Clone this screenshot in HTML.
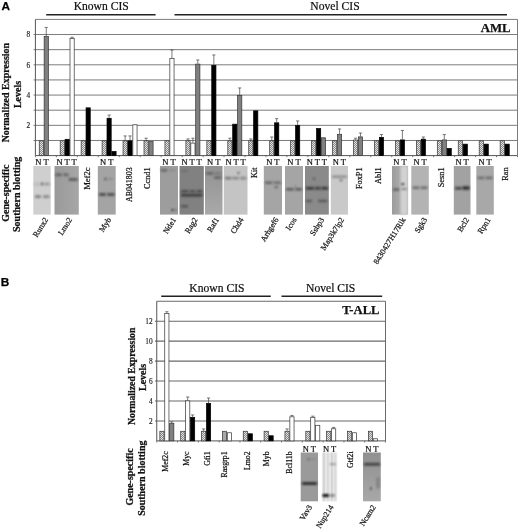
<!DOCTYPE html><html><head><meta charset="utf-8"><title>Figure</title>
<style>html,body{margin:0;padding:0;background:#fff;}svg{display:block;}</style></head><body>
<svg width="520" height="529" viewBox="0 0 520 529">
<defs><pattern id="hatch" width="2" height="2" patternUnits="userSpaceOnUse"><rect width="2" height="2" fill="#8a8a8a"/><rect width="1" height="1" fill="#e2e2e2"/><rect x="1" y="1" width="1" height="1" fill="#e2e2e2"/></pattern><filter id="blur" x="-20%" y="-100%" width="140%" height="300%"><feGaussianBlur stdDeviation="0.8"/></filter></defs>
<rect width="520" height="529" fill="#fff"/>
<text x="1.6" y="10.2" font-size="11.8" text-anchor="start" font-weight="bold" stroke="#000" stroke-width="0.25" font-family="'Liberation Sans', Arial, sans-serif" fill="#000">A</text>
<text x="101.2" y="10.2" font-size="11.6" text-anchor="middle" stroke="#111" stroke-width="0.22" font-family="'Liberation Serif', 'Times New Roman', serif" fill="#111">Known CIS</text>
<path d="M46.2 14.8H155.6" stroke="#222" stroke-width="1.6"/>
<text x="335" y="10.2" font-size="11.6" text-anchor="middle" stroke="#111" stroke-width="0.22" font-family="'Liberation Serif', 'Times New Roman', serif" fill="#111">Novel CIS</text>
<path d="M174.5 14.8H507" stroke="#222" stroke-width="1.6"/>
<path d="M35.4 19.4H517.5V155.6" stroke="#7c7c7c" stroke-width="1" fill="none"/>
<path d="M33.6 140.47H517.5" stroke="#7c7c7c" stroke-width="1" fill="none"/>
<path d="M33.6 125.33H517.5" stroke="#7c7c7c" stroke-width="1" fill="none"/>
<path d="M33.6 110.2H517.5" stroke="#7c7c7c" stroke-width="1" fill="none"/>
<path d="M33.6 95.07H517.5" stroke="#7c7c7c" stroke-width="1" fill="none"/>
<path d="M33.6 79.93H517.5" stroke="#7c7c7c" stroke-width="1" fill="none"/>
<path d="M33.6 64.8H517.5" stroke="#7c7c7c" stroke-width="1" fill="none"/>
<path d="M33.6 49.67H517.5" stroke="#7c7c7c" stroke-width="1" fill="none"/>
<path d="M33.6 34.53H517.5" stroke="#7c7c7c" stroke-width="1" fill="none"/>
<text x="30.1" y="128.23" font-size="7.3" text-anchor="end" fill="#222" stroke="#222" stroke-width="0.15" font-family="'Liberation Serif', 'Times New Roman', serif">2</text>
<text x="30.1" y="97.97" font-size="7.3" text-anchor="end" fill="#222" stroke="#222" stroke-width="0.15" font-family="'Liberation Serif', 'Times New Roman', serif">4</text>
<text x="30.1" y="67.7" font-size="7.3" text-anchor="end" fill="#222" stroke="#222" stroke-width="0.15" font-family="'Liberation Serif', 'Times New Roman', serif">6</text>
<text x="30.1" y="37.43" font-size="7.3" text-anchor="end" fill="#222" stroke="#222" stroke-width="0.15" font-family="'Liberation Serif', 'Times New Roman', serif">8</text>
<path d="M35.4 19.4V155.6H517.5" stroke="#555" stroke-width="1" fill="none"/>
<path d="M35.4 155.6V157.2" stroke="#555" stroke-width="0.8"/>
<path d="M56.36 155.6V157.2" stroke="#555" stroke-width="0.8"/>
<path d="M77.32 155.6V157.2" stroke="#555" stroke-width="0.8"/>
<path d="M98.28 155.6V157.2" stroke="#555" stroke-width="0.8"/>
<path d="M119.24 155.6V157.2" stroke="#555" stroke-width="0.8"/>
<path d="M140.2 155.6V157.2" stroke="#555" stroke-width="0.8"/>
<path d="M161.17 155.6V157.2" stroke="#555" stroke-width="0.8"/>
<path d="M182.13 155.6V157.2" stroke="#555" stroke-width="0.8"/>
<path d="M203.09 155.6V157.2" stroke="#555" stroke-width="0.8"/>
<path d="M224.05 155.6V157.2" stroke="#555" stroke-width="0.8"/>
<path d="M245.01 155.6V157.2" stroke="#555" stroke-width="0.8"/>
<path d="M265.97 155.6V157.2" stroke="#555" stroke-width="0.8"/>
<path d="M286.93 155.6V157.2" stroke="#555" stroke-width="0.8"/>
<path d="M307.89 155.6V157.2" stroke="#555" stroke-width="0.8"/>
<path d="M328.85 155.6V157.2" stroke="#555" stroke-width="0.8"/>
<path d="M349.81 155.6V157.2" stroke="#555" stroke-width="0.8"/>
<path d="M370.77 155.6V157.2" stroke="#555" stroke-width="0.8"/>
<path d="M391.73 155.6V157.2" stroke="#555" stroke-width="0.8"/>
<path d="M412.7 155.6V157.2" stroke="#555" stroke-width="0.8"/>
<path d="M433.66 155.6V157.2" stroke="#555" stroke-width="0.8"/>
<path d="M454.62 155.6V157.2" stroke="#555" stroke-width="0.8"/>
<path d="M475.58 155.6V157.2" stroke="#555" stroke-width="0.8"/>
<path d="M496.54 155.6V157.2" stroke="#555" stroke-width="0.8"/>
<path d="M517.5 155.6V157.2" stroke="#555" stroke-width="0.8"/>
<rect x="39.25" y="140.82" width="4.2" height="14.78" fill="url(#hatch)" stroke="#333" stroke-width="0.7"/>
<rect x="44.15" y="36.55" width="4.2" height="119.05" fill="#808080" stroke="#333" stroke-width="0.7"/>
<path d="M46.25 36.2V27.42M44.65 27.42H47.85" stroke="#444" stroke-width="0.7" fill="none"/>
<rect x="60.2" y="140.82" width="4.2" height="14.78" fill="url(#hatch)" stroke="#333" stroke-width="0.7"/>
<rect x="65.1" y="139.3" width="4.2" height="16.3" fill="#000" stroke="#000" stroke-width="0.7"/>
<rect x="70" y="38.52" width="4.2" height="117.08" fill="#fff" stroke="#333" stroke-width="0.7"/>
<path d="M72.1 38.17V37.26M70.5 37.26H73.7" stroke="#444" stroke-width="0.7" fill="none"/>
<rect x="81.15" y="140.82" width="4.2" height="14.78" fill="url(#hatch)" stroke="#333" stroke-width="0.7"/>
<rect x="86.05" y="107.83" width="4.2" height="47.77" fill="#000" stroke="#000" stroke-width="0.7"/>
<rect x="102.1" y="140.82" width="4.2" height="14.78" fill="url(#hatch)" stroke="#333" stroke-width="0.7"/>
<rect x="107" y="118.27" width="4.2" height="37.33" fill="#000" stroke="#000" stroke-width="0.7"/>
<path d="M109.1 117.92V115.04M107.5 115.04H110.7" stroke="#444" stroke-width="0.7" fill="none"/>
<rect x="111.9" y="151.41" width="4.2" height="4.19" fill="#000" stroke="#000" stroke-width="0.7"/>
<rect x="123.05" y="140.82" width="4.2" height="14.78" fill="url(#hatch)" stroke="#333" stroke-width="0.7"/>
<path d="M125.15 140.47V135.93M123.55 135.93H126.75" stroke="#444" stroke-width="0.7" fill="none"/>
<rect x="127.95" y="140.82" width="4.2" height="14.78" fill="#000" stroke="#000" stroke-width="0.7"/>
<path d="M130.05 140.47V135.93M128.45 135.93H131.65" stroke="#444" stroke-width="0.7" fill="none"/>
<rect x="132.85" y="124.78" width="4.2" height="30.82" fill="#fff" stroke="#333" stroke-width="0.7"/>
<rect x="144" y="140.82" width="4.2" height="14.78" fill="url(#hatch)" stroke="#333" stroke-width="0.7"/>
<path d="M146.1 140.47V138.2M144.5 138.2H147.7" stroke="#444" stroke-width="0.7" fill="none"/>
<rect x="148.9" y="141.57" width="4.2" height="14.03" fill="#808080" stroke="#333" stroke-width="0.7"/>
<rect x="164.95" y="140.82" width="4.2" height="14.78" fill="url(#hatch)" stroke="#333" stroke-width="0.7"/>
<rect x="169.85" y="58.34" width="4.2" height="97.26" fill="#fff" stroke="#333" stroke-width="0.7"/>
<path d="M171.95 57.99V49.97M170.35 49.97H173.55" stroke="#444" stroke-width="0.7" fill="none"/>
<rect x="185.9" y="140.82" width="4.2" height="14.78" fill="url(#hatch)" stroke="#333" stroke-width="0.7"/>
<path d="M188 140.47V138.95M186.4 138.95H189.6" stroke="#444" stroke-width="0.7" fill="none"/>
<rect x="190.8" y="143.09" width="4.2" height="12.51" fill="#fff" stroke="#333" stroke-width="0.7"/>
<path d="M192.9 142.74V138.2M191.3 138.2H194.5" stroke="#444" stroke-width="0.7" fill="none"/>
<rect x="195.7" y="64.09" width="4.2" height="91.51" fill="#808080" stroke="#333" stroke-width="0.7"/>
<path d="M197.8 63.74V59.96M196.2 59.96H199.4" stroke="#444" stroke-width="0.7" fill="none"/>
<rect x="206.85" y="140.82" width="4.2" height="14.78" fill="url(#hatch)" stroke="#333" stroke-width="0.7"/>
<rect x="211.75" y="65.3" width="4.2" height="90.3" fill="#000" stroke="#000" stroke-width="0.7"/>
<path d="M213.85 64.95V54.96M212.25 54.96H215.45" stroke="#444" stroke-width="0.7" fill="none"/>
<rect x="227.8" y="140.82" width="4.2" height="14.78" fill="url(#hatch)" stroke="#333" stroke-width="0.7"/>
<path d="M229.9 140.47V138.2M228.3 138.2H231.5" stroke="#444" stroke-width="0.7" fill="none"/>
<rect x="232.7" y="124.17" width="4.2" height="31.43" fill="#000" stroke="#000" stroke-width="0.7"/>
<rect x="237.6" y="95.42" width="4.2" height="60.18" fill="#808080" stroke="#333" stroke-width="0.7"/>
<path d="M239.7 95.07V87.95M238.1 87.95H241.3" stroke="#444" stroke-width="0.7" fill="none"/>
<rect x="248.75" y="140.82" width="4.2" height="14.78" fill="url(#hatch)" stroke="#333" stroke-width="0.7"/>
<path d="M250.85 140.47V138.95M249.25 138.95H252.45" stroke="#444" stroke-width="0.7" fill="none"/>
<rect x="253.65" y="110.85" width="4.2" height="44.75" fill="#000" stroke="#000" stroke-width="0.7"/>
<rect x="269.7" y="140.82" width="4.2" height="14.78" fill="url(#hatch)" stroke="#333" stroke-width="0.7"/>
<path d="M271.8 140.47V136.99M270.2 136.99H273.4" stroke="#444" stroke-width="0.7" fill="none"/>
<rect x="274.6" y="122.81" width="4.2" height="32.79" fill="#000" stroke="#000" stroke-width="0.7"/>
<path d="M276.7 122.46V118.67M275.1 118.67H278.3" stroke="#444" stroke-width="0.7" fill="none"/>
<rect x="290.65" y="140.82" width="4.2" height="14.78" fill="url(#hatch)" stroke="#333" stroke-width="0.7"/>
<rect x="295.55" y="125.38" width="4.2" height="30.22" fill="#000" stroke="#000" stroke-width="0.7"/>
<path d="M297.65 125.03V120.94M296.05 120.94H299.25" stroke="#444" stroke-width="0.7" fill="none"/>
<rect x="311.6" y="140.82" width="4.2" height="14.78" fill="url(#hatch)" stroke="#333" stroke-width="0.7"/>
<rect x="316.5" y="128.56" width="4.2" height="27.04" fill="#000" stroke="#000" stroke-width="0.7"/>
<rect x="321.4" y="137.79" width="4.2" height="17.81" fill="#808080" stroke="#333" stroke-width="0.7"/>
<rect x="332.55" y="140.82" width="4.2" height="14.78" fill="url(#hatch)" stroke="#333" stroke-width="0.7"/>
<rect x="337.45" y="134.31" width="4.2" height="21.29" fill="#808080" stroke="#333" stroke-width="0.7"/>
<path d="M339.55 133.96V128.97M337.95 128.97H341.15" stroke="#444" stroke-width="0.7" fill="none"/>
<rect x="353.5" y="140.06" width="4.2" height="15.54" fill="url(#hatch)" stroke="#333" stroke-width="0.7"/>
<path d="M355.6 139.71V138.2M354 138.2H357.2" stroke="#444" stroke-width="0.7" fill="none"/>
<rect x="358.4" y="136.88" width="4.2" height="18.72" fill="#808080" stroke="#333" stroke-width="0.7"/>
<path d="M360.5 136.53V133.05M358.9 133.05H362.1" stroke="#444" stroke-width="0.7" fill="none"/>
<rect x="374.45" y="140.82" width="4.2" height="14.78" fill="url(#hatch)" stroke="#333" stroke-width="0.7"/>
<rect x="379.35" y="137.34" width="4.2" height="18.26" fill="#000" stroke="#000" stroke-width="0.7"/>
<path d="M381.45 136.99V134.56M379.85 134.56H383.05" stroke="#444" stroke-width="0.7" fill="none"/>
<rect x="395.4" y="140.82" width="4.2" height="14.78" fill="url(#hatch)" stroke="#333" stroke-width="0.7"/>
<rect x="400.3" y="139.91" width="4.2" height="15.69" fill="#000" stroke="#000" stroke-width="0.7"/>
<path d="M402.4 139.56V130.48M400.8 130.48H404" stroke="#444" stroke-width="0.7" fill="none"/>
<rect x="416.35" y="140.82" width="4.2" height="14.78" fill="url(#hatch)" stroke="#333" stroke-width="0.7"/>
<rect x="421.25" y="139.15" width="4.2" height="16.45" fill="#000" stroke="#000" stroke-width="0.7"/>
<path d="M423.35 138.8V136.99M421.75 136.99H424.95" stroke="#444" stroke-width="0.7" fill="none"/>
<rect x="437.3" y="140.82" width="4.2" height="14.78" fill="url(#hatch)" stroke="#333" stroke-width="0.7"/>
<rect x="442.2" y="139.91" width="4.2" height="15.69" fill="#808080" stroke="#333" stroke-width="0.7"/>
<path d="M444.3 139.56V134.56M442.7 134.56H445.9" stroke="#444" stroke-width="0.7" fill="none"/>
<rect x="447.1" y="148.38" width="4.2" height="7.22" fill="#000" stroke="#000" stroke-width="0.7"/>
<rect x="458.25" y="140.82" width="4.2" height="14.78" fill="url(#hatch)" stroke="#333" stroke-width="0.7"/>
<rect x="463.15" y="144.15" width="4.2" height="11.45" fill="#000" stroke="#000" stroke-width="0.7"/>
<rect x="479.2" y="140.82" width="4.2" height="14.78" fill="url(#hatch)" stroke="#333" stroke-width="0.7"/>
<rect x="484.1" y="144.15" width="4.2" height="11.45" fill="#000" stroke="#000" stroke-width="0.7"/>
<rect x="500.15" y="140.82" width="4.2" height="14.78" fill="url(#hatch)" stroke="#333" stroke-width="0.7"/>
<rect x="505.05" y="144.15" width="4.2" height="11.45" fill="#000" stroke="#000" stroke-width="0.7"/>
<text x="495.6" y="32.3" font-size="12.8" text-anchor="middle" font-weight="bold" stroke="#111" stroke-width="0.25" font-family="'Liberation Serif', 'Times New Roman', serif" fill="#111">AML</text>
<text x="8.8" y="92.6" font-size="10" text-anchor="middle" font-weight="bold" stroke="#111" stroke-width="0.25" font-family="'Liberation Serif', 'Times New Roman', serif" fill="#111" transform="rotate(-90 8.8 92.6)">Normalized Expression</text>
<text x="21.4" y="94.5" font-size="10" text-anchor="middle" font-weight="bold" stroke="#111" stroke-width="0.25" font-family="'Liberation Serif', 'Times New Roman', serif" fill="#111" transform="rotate(-90 21.4 94.5)">Levels</text>
<text x="8.6" y="193.2" font-size="10" text-anchor="middle" font-weight="bold" stroke="#111" stroke-width="0.25" font-family="'Liberation Serif', 'Times New Roman', serif" fill="#111" transform="rotate(-90 8.6 193.2)">Gene-specific</text>
<text x="19.8" y="194.3" font-size="10" text-anchor="middle" font-weight="bold" stroke="#111" stroke-width="0.25" font-family="'Liberation Serif', 'Times New Roman', serif" fill="#111" transform="rotate(-90 19.8 194.3)">Southern blotting</text>
<text x="42" y="164.9" font-size="8.5" text-anchor="middle" stroke="#111" stroke-width="0.22" font-family="'Liberation Serif', 'Times New Roman', serif" fill="#111" xml:space="preserve">N T</text>
<rect x="33.3" y="166" width="17.4" height="48.6" fill="#cfcfcf"/>
<rect x="35" y="195.3" width="6" height="2.6" rx="1" fill="#808080" filter="url(#blur)"/>
<rect x="43" y="195.3" width="6.5" height="2.6" rx="1" fill="#8a8a8a" filter="url(#blur)"/>
<rect x="34" y="182.2" width="16" height="4" rx="1" fill="#c0c0c0" filter="url(#blur)"/>
<rect x="41" y="182.8" width="2.5" height="2" rx="1" fill="#505050" filter="url(#blur)"/>
<rect x="44" y="182.9" width="5.5" height="2.2" rx="1" fill="#999" filter="url(#blur)"/>
<text x="66.65" y="164.9" font-size="8.5" text-anchor="middle" stroke="#111" stroke-width="0.22" font-family="'Liberation Serif', 'Times New Roman', serif" fill="#111" xml:space="preserve">N T T</text>
<linearGradient id="g1" x1="0" y1="0" x2="1" y2="0"><stop offset="0" stop-color="#9a9a9a"/><stop offset="1" stop-color="#a6a6a6"/></linearGradient>
<rect x="54.5" y="166" width="24.3" height="48.6" fill="url(#g1)"/>
<rect x="55.5" y="173.3" width="6.3" height="3" rx="1" fill="#666" filter="url(#blur)"/>
<rect x="63.2" y="173.3" width="5.4" height="3" rx="1" fill="#6a6a6a" filter="url(#blur)"/>
<rect x="68.6" y="177.9" width="9" height="3" rx="1" fill="#606060" filter="url(#blur)"/>
<text x="106.75" y="164.9" font-size="8.5" text-anchor="middle" stroke="#111" stroke-width="0.22" font-family="'Liberation Serif', 'Times New Roman', serif" fill="#111" xml:space="preserve">N T</text>
<rect x="97.8" y="166" width="17.9" height="48.6" fill="#a4a4a4"/>
<rect x="99" y="192.9" width="7" height="3.2" rx="1" fill="#505050" filter="url(#blur)"/>
<rect x="107" y="192.9" width="7.5" height="3.2" rx="1" fill="#555" filter="url(#blur)"/>
<rect x="104" y="178.1" width="3" height="1.8" rx="1" fill="#555" filter="url(#blur)"/>
<rect x="108" y="178.1" width="5" height="1.8" rx="1" fill="#8a8a8a" filter="url(#blur)"/>
<text x="169" y="164.9" font-size="8.5" text-anchor="middle" stroke="#111" stroke-width="0.22" font-family="'Liberation Serif', 'Times New Roman', serif" fill="#111" xml:space="preserve">N T</text>
<rect x="160" y="166" width="18" height="48.6" fill="#9d9d9d"/>
<rect x="160.7" y="169.1" width="6.7" height="2.6" rx="1" fill="#6a6a6a" filter="url(#blur)"/>
<rect x="168.5" y="169.6" width="7" height="2" rx="1" fill="#8a8a8a" filter="url(#blur)"/>
<rect x="171" y="209" width="3" height="2" rx="1" fill="#444" filter="url(#blur)"/>
<rect x="174" y="209" width="3" height="2" rx="1" fill="#777" filter="url(#blur)"/>
<text x="191.65" y="164.9" font-size="8.5" text-anchor="middle" stroke="#111" stroke-width="0.22" font-family="'Liberation Serif', 'Times New Roman', serif" fill="#111" xml:space="preserve">N T T</text>
<rect x="179.5" y="166" width="24.3" height="48.6" fill="#818181"/>
<rect x="181" y="190" width="7.5" height="2.4" rx="1" fill="#4a4a4a" filter="url(#blur)"/>
<rect x="189.5" y="190" width="6" height="2.4" rx="1" fill="#505050" filter="url(#blur)"/>
<rect x="196.5" y="190" width="6" height="2.4" rx="1" fill="#4a4a4a" filter="url(#blur)"/>
<rect x="181" y="193.7" width="21.5" height="2.8" rx="1" fill="#3a3a3a" filter="url(#blur)"/>
<rect x="181" y="205" width="7" height="2.4" rx="1" fill="#555" filter="url(#blur)"/>
<rect x="181" y="170" width="7" height="2" rx="1" fill="#6e6e6e" filter="url(#blur)"/>
<text x="213.75" y="164.9" font-size="8.5" text-anchor="middle" stroke="#111" stroke-width="0.22" font-family="'Liberation Serif', 'Times New Roman', serif" fill="#111" xml:space="preserve">N T</text>
<linearGradient id="g2" x1="0" y1="0" x2="0" y2="1"><stop offset="0" stop-color="#929292"/><stop offset="1" stop-color="#a9a9a9"/></linearGradient>
<rect x="205" y="166" width="17.5" height="48.6" fill="url(#g2)"/>
<rect x="206" y="172.1" width="7.5" height="2.6" rx="1" fill="#666" filter="url(#blur)"/>
<rect x="214" y="172.3" width="7.5" height="2.2" rx="1" fill="#777" filter="url(#blur)"/>
<rect x="214" y="176.3" width="7.5" height="2.6" rx="1" fill="#666" filter="url(#blur)"/>
<text x="235.65" y="164.9" font-size="8.5" text-anchor="middle" stroke="#111" stroke-width="0.22" font-family="'Liberation Serif', 'Times New Roman', serif" fill="#111" xml:space="preserve">N T T</text>
<rect x="223.8" y="166" width="23.7" height="48.6" fill="#c4c4c4"/>
<rect x="225" y="176.8" width="6.5" height="2.6" rx="1" fill="#7a7a7a" filter="url(#blur)"/>
<rect x="232" y="176.8" width="7" height="2.6" rx="1" fill="#8a8a8a" filter="url(#blur)"/>
<rect x="240" y="176.8" width="6.5" height="2.6" rx="1" fill="#8a8a8a" filter="url(#blur)"/>
<rect x="237" y="172" width="3" height="1.8" rx="1" fill="#666" filter="url(#blur)"/>
<text x="272.9" y="164.9" font-size="8.5" text-anchor="middle" stroke="#111" stroke-width="0.22" font-family="'Liberation Serif', 'Times New Roman', serif" fill="#111" xml:space="preserve">N T</text>
<rect x="263.8" y="166" width="18.2" height="48.6" fill="#a5a5a5"/>
<rect x="265" y="181.5" width="7.5" height="2.6" rx="1" fill="#666" filter="url(#blur)"/>
<rect x="273.5" y="181.5" width="7.5" height="2.6" rx="1" fill="#6e6e6e" filter="url(#blur)"/>
<rect x="274.5" y="186" width="3.5" height="2.2" rx="1" fill="#666" filter="url(#blur)"/>
<text x="294" y="164.9" font-size="8.5" text-anchor="middle" stroke="#111" stroke-width="0.22" font-family="'Liberation Serif', 'Times New Roman', serif" fill="#111" xml:space="preserve">N T</text>
<rect x="285" y="166" width="18" height="48.6" fill="#a5a5a5"/>
<rect x="286" y="188" width="8" height="2.6" rx="1" fill="#5a5a5a" filter="url(#blur)"/>
<rect x="295" y="188" width="7" height="2.6" rx="1" fill="#5a5a5a" filter="url(#blur)"/>
<rect x="294.5" y="185.5" width="2" height="1.6" rx="1" fill="#666" filter="url(#blur)"/>
<text x="316.9" y="164.9" font-size="8.5" text-anchor="middle" stroke="#111" stroke-width="0.22" font-family="'Liberation Serif', 'Times New Roman', serif" fill="#111" xml:space="preserve">N T T</text>
<rect x="305" y="166" width="23.8" height="48.6" fill="#8a8a8a"/>
<rect x="306" y="186.8" width="8" height="3" rx="1" fill="#3a3a3a" filter="url(#blur)"/>
<rect x="314.5" y="186.8" width="6.5" height="3" rx="1" fill="#444" filter="url(#blur)"/>
<rect x="321.5" y="186.8" width="6.5" height="3" rx="1" fill="#3a3a3a" filter="url(#blur)"/>
<rect x="306" y="199.7" width="6" height="2.6" rx="1" fill="#5a5a5a" filter="url(#blur)"/>
<rect x="318" y="199.7" width="9.5" height="2.6" rx="1" fill="#5a5a5a" filter="url(#blur)"/>
<rect x="312.5" y="177.8" width="3" height="2" rx="1" fill="#5a5a5a" filter="url(#blur)"/>
<text x="339.4" y="164.9" font-size="8.5" text-anchor="middle" stroke="#111" stroke-width="0.22" font-family="'Liberation Serif', 'Times New Roman', serif" fill="#111" xml:space="preserve">N T</text>
<rect x="330.8" y="166" width="17.2" height="48.6" fill="#c9c9c9"/>
<rect x="332" y="175.4" width="15" height="2.6" rx="1" fill="#909090" filter="url(#blur)"/>
<rect x="339.5" y="179.2" width="3" height="2" rx="1" fill="#666" filter="url(#blur)"/>
<text x="400" y="164.9" font-size="8.5" text-anchor="middle" stroke="#111" stroke-width="0.22" font-family="'Liberation Serif', 'Times New Roman', serif" fill="#111" xml:space="preserve">N T</text>
<linearGradient id="g3" x1="0" y1="0" x2="1" y2="0"><stop offset="0" stop-color="#9c9c9c"/><stop offset="1" stop-color="#b8b8b8"/></linearGradient>
<rect x="392" y="166" width="16" height="48.6" fill="url(#g3)"/>
<rect x="393" y="188.2" width="6.5" height="2.6" rx="1" fill="#606060" filter="url(#blur)"/>
<rect x="400.5" y="166" width="7" height="48.6" rx="1" fill="#d2d2d2" filter="url(#blur)"/>
<rect x="401" y="183.1" width="3.5" height="2.2" rx="1" fill="#505050" filter="url(#blur)"/>
<rect x="401" y="188.1" width="6" height="1.8" rx="1" fill="#888" filter="url(#blur)"/>
<text x="420.05" y="164.9" font-size="8.5" text-anchor="middle" stroke="#111" stroke-width="0.22" font-family="'Liberation Serif', 'Times New Roman', serif" fill="#111" xml:space="preserve">N T</text>
<rect x="411.3" y="166" width="17.5" height="48.6" fill="#b3b3b3"/>
<rect x="412.5" y="186.5" width="7" height="2.6" rx="1" fill="#6a6a6a" filter="url(#blur)"/>
<rect x="420.5" y="186.5" width="7" height="2.6" rx="1" fill="#6a6a6a" filter="url(#blur)"/>
<text x="462.15" y="164.9" font-size="8.5" text-anchor="middle" stroke="#111" stroke-width="0.22" font-family="'Liberation Serif', 'Times New Roman', serif" fill="#111" xml:space="preserve">N T</text>
<rect x="453.8" y="166" width="16.7" height="48.6" fill="#a2a2a2"/>
<rect x="455" y="186.7" width="7" height="3" rx="1" fill="#4a4a4a" filter="url(#blur)"/>
<rect x="462.5" y="186.3" width="7" height="3.4" rx="1" fill="#303030" filter="url(#blur)"/>
<text x="485.05" y="164.9" font-size="8.5" text-anchor="middle" stroke="#111" stroke-width="0.22" font-family="'Liberation Serif', 'Times New Roman', serif" fill="#111" xml:space="preserve">N T</text>
<rect x="476.3" y="166" width="17.5" height="48.6" fill="#a8a8a8"/>
<rect x="477.5" y="176.6" width="7" height="2.6" rx="1" fill="#707070" filter="url(#blur)"/>
<rect x="485.5" y="176.6" width="7" height="2.6" rx="1" fill="#707070" filter="url(#blur)"/>
<text x="90.2" y="167.4" font-size="8.6" text-anchor="end" stroke="#111" stroke-width="0.22" font-family="'Liberation Serif', 'Times New Roman', serif" fill="#111" transform="rotate(-90 90.2 167.4)">Mef2c</text>
<text x="131.8" y="167.4" font-size="7.9" text-anchor="end" stroke="#111" stroke-width="0.22" font-family="'Liberation Serif', 'Times New Roman', serif" fill="#111" transform="rotate(-90 131.8 167.4)">AB041803</text>
<text x="150.3" y="167.4" font-size="8.3" text-anchor="end" stroke="#111" stroke-width="0.22" font-family="'Liberation Serif', 'Times New Roman', serif" fill="#111" transform="rotate(-90 150.3 167.4)">Ccnd1</text>
<text x="257.2" y="167.4" font-size="8.3" text-anchor="end" stroke="#111" stroke-width="0.22" font-family="'Liberation Serif', 'Times New Roman', serif" fill="#111" transform="rotate(-90 257.2 167.4)">Kit</text>
<text x="362" y="167.4" font-size="8.3" text-anchor="end" stroke="#111" stroke-width="0.22" font-family="'Liberation Serif', 'Times New Roman', serif" fill="#111" transform="rotate(-90 362 167.4)">FoxP1</text>
<text x="381.3" y="167.4" font-size="8.3" text-anchor="end" stroke="#111" stroke-width="0.22" font-family="'Liberation Serif', 'Times New Roman', serif" fill="#111" transform="rotate(-90 381.3 167.4)">Abl1</text>
<text x="444.2" y="167.4" font-size="8.3" text-anchor="end" stroke="#111" stroke-width="0.22" font-family="'Liberation Serif', 'Times New Roman', serif" fill="#111" transform="rotate(-90 444.2 167.4)">Sesn1</text>
<text x="507.6" y="167.4" font-size="8.3" text-anchor="end" stroke="#111" stroke-width="0.22" font-family="'Liberation Serif', 'Times New Roman', serif" fill="#111" transform="rotate(-90 507.6 167.4)">Ran</text>
<text x="48.4" y="219.6" font-size="8.0" text-anchor="end" stroke="#111" stroke-width="0.22" font-family="'Liberation Serif', 'Times New Roman', serif" fill="#111" transform="rotate(-58 48.4 219.6)">Runx2</text>
<text x="72.4" y="219.6" font-size="8.0" text-anchor="end" stroke="#111" stroke-width="0.22" font-family="'Liberation Serif', 'Times New Roman', serif" fill="#111" transform="rotate(-58 72.4 219.6)">Lmo2</text>
<text x="111.4" y="219.6" font-size="8.0" text-anchor="end" stroke="#111" stroke-width="0.22" font-family="'Liberation Serif', 'Times New Roman', serif" fill="#111" transform="rotate(-58 111.4 219.6)">Myb</text>
<text x="176.4" y="219.6" font-size="8.0" text-anchor="end" stroke="#111" stroke-width="0.22" font-family="'Liberation Serif', 'Times New Roman', serif" fill="#111" transform="rotate(-58 176.4 219.6)">Nde1</text>
<text x="197.9" y="219.6" font-size="8.0" text-anchor="end" stroke="#111" stroke-width="0.22" font-family="'Liberation Serif', 'Times New Roman', serif" fill="#111" transform="rotate(-58 197.9 219.6)">Rag2</text>
<text x="219.4" y="219.6" font-size="8.0" text-anchor="end" stroke="#111" stroke-width="0.22" font-family="'Liberation Serif', 'Times New Roman', serif" fill="#111" transform="rotate(-58 219.4 219.6)">Raf1</text>
<text x="243.9" y="219.6" font-size="8.0" text-anchor="end" stroke="#111" stroke-width="0.22" font-family="'Liberation Serif', 'Times New Roman', serif" fill="#111" transform="rotate(-58 243.9 219.6)">Chd4</text>
<text x="278.9" y="219.6" font-size="8.0" text-anchor="end" stroke="#111" stroke-width="0.22" font-family="'Liberation Serif', 'Times New Roman', serif" fill="#111" transform="rotate(-58 278.9 219.6)">Arhgef6</text>
<text x="296.9" y="219.6" font-size="8.0" text-anchor="end" stroke="#111" stroke-width="0.22" font-family="'Liberation Serif', 'Times New Roman', serif" fill="#111" transform="rotate(-58 296.9 219.6)">Icos</text>
<text x="324.4" y="219.6" font-size="8.0" text-anchor="end" stroke="#111" stroke-width="0.22" font-family="'Liberation Serif', 'Times New Roman', serif" fill="#111" transform="rotate(-58 324.4 219.6)">Ssbp3</text>
<text x="344.4" y="219.6" font-size="8.0" text-anchor="end" stroke="#111" stroke-width="0.22" font-family="'Liberation Serif', 'Times New Roman', serif" fill="#111" transform="rotate(-58 344.4 219.6)">Map3k7ip2</text>
<text x="405.9" y="219.6" font-size="8.0" text-anchor="end" stroke="#111" stroke-width="0.22" font-family="'Liberation Serif', 'Times New Roman', serif" fill="#111" transform="rotate(-58 405.9 219.6)">8430427H17Rik</text>
<text x="427.4" y="219.6" font-size="8.0" text-anchor="end" stroke="#111" stroke-width="0.22" font-family="'Liberation Serif', 'Times New Roman', serif" fill="#111" transform="rotate(-58 427.4 219.6)">Sgk3</text>
<text x="469.4" y="219.6" font-size="8.0" text-anchor="end" stroke="#111" stroke-width="0.22" font-family="'Liberation Serif', 'Times New Roman', serif" fill="#111" transform="rotate(-58 469.4 219.6)">Bcl2</text>
<text x="490.9" y="219.6" font-size="8.0" text-anchor="end" stroke="#111" stroke-width="0.22" font-family="'Liberation Serif', 'Times New Roman', serif" fill="#111" transform="rotate(-58 490.9 219.6)">Rpn1</text>
<text x="0.8" y="286.4" font-size="11.8" text-anchor="start" font-weight="bold" stroke="#000" stroke-width="0.25" font-family="'Liberation Sans', Arial, sans-serif" fill="#000">B</text>
<text x="216.9" y="292.2" font-size="11.6" text-anchor="middle" stroke="#111" stroke-width="0.22" font-family="'Liberation Serif', 'Times New Roman', serif" fill="#111">Known CIS</text>
<path d="M161.2 296.3H270.8" stroke="#222" stroke-width="1.6"/>
<text x="330.7" y="292.2" font-size="11.6" text-anchor="middle" stroke="#111" stroke-width="0.22" font-family="'Liberation Serif', 'Times New Roman', serif" fill="#111">Novel CIS</text>
<path d="M281.5 296.3H382.2" stroke="#222" stroke-width="1.6"/>
<path d="M156.75 301.25H385.5V440.9" stroke="#6a6a6a" stroke-width="1" fill="none"/>
<path d="M154.95 420.95H385.5" stroke="#6a6a6a" stroke-width="1.1" fill="none"/>
<path d="M154.95 401H385.5" stroke="#6a6a6a" stroke-width="1.1" fill="none"/>
<path d="M154.95 381.05H385.5" stroke="#6a6a6a" stroke-width="1.1" fill="none"/>
<path d="M154.95 361.1H385.5" stroke="#6a6a6a" stroke-width="1.1" fill="none"/>
<path d="M154.95 341.15H385.5" stroke="#6a6a6a" stroke-width="1.1" fill="none"/>
<path d="M154.95 321.2H385.5" stroke="#6a6a6a" stroke-width="1.1" fill="none"/>
<text x="152.6" y="423.85" font-size="7.3" text-anchor="end" fill="#222" stroke="#222" stroke-width="0.15" font-family="'Liberation Serif', 'Times New Roman', serif">2</text>
<text x="152.6" y="403.9" font-size="7.3" text-anchor="end" fill="#222" stroke="#222" stroke-width="0.15" font-family="'Liberation Serif', 'Times New Roman', serif">4</text>
<text x="152.6" y="383.95" font-size="7.3" text-anchor="end" fill="#222" stroke="#222" stroke-width="0.15" font-family="'Liberation Serif', 'Times New Roman', serif">6</text>
<text x="152.6" y="364" font-size="7.3" text-anchor="end" fill="#222" stroke="#222" stroke-width="0.15" font-family="'Liberation Serif', 'Times New Roman', serif">8</text>
<text x="152.6" y="344.05" font-size="7.3" text-anchor="end" fill="#222" stroke="#222" stroke-width="0.15" font-family="'Liberation Serif', 'Times New Roman', serif">10</text>
<text x="152.6" y="324.1" font-size="7.3" text-anchor="end" fill="#222" stroke="#222" stroke-width="0.15" font-family="'Liberation Serif', 'Times New Roman', serif">12</text>
<path d="M156.75 301.25V440.9H385.5" stroke="#555" stroke-width="1" fill="none"/>
<path d="M156.75 440.9V442.5" stroke="#555" stroke-width="0.8"/>
<path d="M177.55 440.9V442.5" stroke="#555" stroke-width="0.8"/>
<path d="M198.34 440.9V442.5" stroke="#555" stroke-width="0.8"/>
<path d="M219.14 440.9V442.5" stroke="#555" stroke-width="0.8"/>
<path d="M239.93 440.9V442.5" stroke="#555" stroke-width="0.8"/>
<path d="M260.73 440.9V442.5" stroke="#555" stroke-width="0.8"/>
<path d="M281.52 440.9V442.5" stroke="#555" stroke-width="0.8"/>
<path d="M302.32 440.9V442.5" stroke="#555" stroke-width="0.8"/>
<path d="M323.11 440.9V442.5" stroke="#555" stroke-width="0.8"/>
<path d="M343.91 440.9V442.5" stroke="#555" stroke-width="0.8"/>
<path d="M364.7 440.9V442.5" stroke="#555" stroke-width="0.8"/>
<path d="M385.5 440.9V442.5" stroke="#555" stroke-width="0.8"/>
<rect x="159.85" y="431.27" width="4.2" height="9.63" fill="url(#hatch)" stroke="#333" stroke-width="0.7"/>
<rect x="164.75" y="313.57" width="4.2" height="127.33" fill="#fff" stroke="#333" stroke-width="0.7"/>
<path d="M166.85 313.22V311.72M165.25 311.72H168.45" stroke="#444" stroke-width="0.7" fill="none"/>
<rect x="169.65" y="423.59" width="4.2" height="17.31" fill="#808080" stroke="#333" stroke-width="0.7"/>
<path d="M171.75 423.24V421.95M170.15 421.95H173.35" stroke="#444" stroke-width="0.7" fill="none"/>
<rect x="180.7" y="431.27" width="4.2" height="9.63" fill="url(#hatch)" stroke="#333" stroke-width="0.7"/>
<rect x="185.6" y="400.85" width="4.2" height="40.05" fill="#fff" stroke="#333" stroke-width="0.7"/>
<path d="M187.7 400.5V397.01M186.1 397.01H189.3" stroke="#444" stroke-width="0.7" fill="none"/>
<rect x="190.5" y="417.31" width="4.2" height="23.59" fill="#000" stroke="#000" stroke-width="0.7"/>
<path d="M192.6 416.96V414.96M191 414.96H194.2" stroke="#444" stroke-width="0.7" fill="none"/>
<rect x="201.55" y="431.27" width="4.2" height="9.63" fill="url(#hatch)" stroke="#333" stroke-width="0.7"/>
<path d="M203.65 430.92V428.93M202.05 428.93H205.25" stroke="#444" stroke-width="0.7" fill="none"/>
<rect x="206.45" y="403.35" width="4.2" height="37.55" fill="#000" stroke="#000" stroke-width="0.7"/>
<path d="M208.55 403V398.01M206.95 398.01H210.15" stroke="#444" stroke-width="0.7" fill="none"/>
<rect x="222.4" y="431.27" width="4.2" height="9.63" fill="#a8a8a8" stroke="#333" stroke-width="0.7"/>
<rect x="227.3" y="432.77" width="4.2" height="8.13" fill="#fff" stroke="#333" stroke-width="0.7"/>
<rect x="243.25" y="431.27" width="4.2" height="9.63" fill="url(#hatch)" stroke="#333" stroke-width="0.7"/>
<rect x="248.15" y="433.77" width="4.2" height="7.13" fill="#000" stroke="#000" stroke-width="0.7"/>
<rect x="264.1" y="431.27" width="4.2" height="9.63" fill="url(#hatch)" stroke="#333" stroke-width="0.7"/>
<rect x="269" y="435.76" width="4.2" height="5.14" fill="#000" stroke="#000" stroke-width="0.7"/>
<rect x="284.95" y="431.27" width="4.2" height="9.63" fill="url(#hatch)" stroke="#333" stroke-width="0.7"/>
<path d="M287.05 430.92V428.93M285.45 428.93H288.65" stroke="#444" stroke-width="0.7" fill="none"/>
<rect x="289.85" y="416.81" width="4.2" height="24.09" fill="#fff" stroke="#333" stroke-width="0.7"/>
<path d="M291.95 416.46V415.46M290.35 415.46H293.55" stroke="#444" stroke-width="0.7" fill="none"/>
<rect x="305.8" y="431.27" width="4.2" height="9.63" fill="url(#hatch)" stroke="#333" stroke-width="0.7"/>
<rect x="310.7" y="417.31" width="4.2" height="23.59" fill="#fff" stroke="#333" stroke-width="0.7"/>
<path d="M312.8 416.96V416.16M311.2 416.16H314.4" stroke="#444" stroke-width="0.7" fill="none"/>
<rect x="315.6" y="425.29" width="4.2" height="15.61" fill="#fff" stroke="#333" stroke-width="0.7"/>
<rect x="326.65" y="431.27" width="4.2" height="9.63" fill="url(#hatch)" stroke="#333" stroke-width="0.7"/>
<rect x="331.55" y="428.78" width="4.2" height="12.12" fill="#fff" stroke="#333" stroke-width="0.7"/>
<path d="M333.65 428.43V427.43M332.05 427.43H335.25" stroke="#444" stroke-width="0.7" fill="none"/>
<rect x="347.5" y="431.27" width="4.2" height="9.63" fill="url(#hatch)" stroke="#333" stroke-width="0.7"/>
<rect x="352.4" y="432.77" width="4.2" height="8.13" fill="#fff" stroke="#333" stroke-width="0.7"/>
<rect x="368.35" y="431.27" width="4.2" height="9.63" fill="url(#hatch)" stroke="#333" stroke-width="0.7"/>
<rect x="373.25" y="438.76" width="4.2" height="2.14" fill="#fff" stroke="#333" stroke-width="0.7"/>
<text x="360.8" y="314.4" font-size="12.6" text-anchor="middle" font-weight="bold" stroke="#111" stroke-width="0.25" font-family="'Liberation Serif', 'Times New Roman', serif" fill="#111">T-ALL</text>
<text x="135.2" y="376.3" font-size="9.8" text-anchor="middle" font-weight="bold" stroke="#111" stroke-width="0.25" font-family="'Liberation Serif', 'Times New Roman', serif" fill="#111" transform="rotate(-90 135.2 376.3)">Normalized Expression</text>
<text x="146.4" y="377.4" font-size="10" text-anchor="middle" font-weight="bold" stroke="#111" stroke-width="0.25" font-family="'Liberation Serif', 'Times New Roman', serif" fill="#111" transform="rotate(-90 146.4 377.4)">Levels</text>
<text x="133.4" y="477" font-size="10" text-anchor="middle" font-weight="bold" stroke="#111" stroke-width="0.25" font-family="'Liberation Serif', 'Times New Roman', serif" fill="#111" transform="rotate(-90 133.4 477)">Gene-specific</text>
<text x="145.2" y="478.2" font-size="10" text-anchor="middle" font-weight="bold" stroke="#111" stroke-width="0.25" font-family="'Liberation Serif', 'Times New Roman', serif" fill="#111" transform="rotate(-90 145.2 478.2)">Southern blotting</text>
<text x="309.35" y="451.5" font-size="8.5" text-anchor="middle" stroke="#111" stroke-width="0.22" font-family="'Liberation Serif', 'Times New Roman', serif" fill="#111" xml:space="preserve">N T</text>
<rect x="300.7" y="452.5" width="17.3" height="48.8" fill="#9a9a9a"/>
<rect x="302" y="482.1" width="15" height="3" rx="1" fill="#333" filter="url(#blur)"/>
<rect x="307" y="458.5" width="3" height="1.6" rx="1" fill="#5a5a5a" filter="url(#blur)"/>
<rect x="310" y="458.5" width="6" height="1.6" rx="1" fill="#888" filter="url(#blur)"/>
<text x="329.6" y="451.5" font-size="8.5" text-anchor="middle" stroke="#111" stroke-width="0.22" font-family="'Liberation Serif', 'Times New Roman', serif" fill="#111" xml:space="preserve">N T</text>
<rect x="322" y="452.5" width="15.2" height="48.8" fill="#e6e6e6"/>
<rect x="323.5" y="452.5" width="1" height="48.8" rx="1" fill="#b0b0b0" filter="url(#blur)"/>
<rect x="327.3" y="452.5" width="0.8" height="48.8" rx="1" fill="#bcbcbc" filter="url(#blur)"/>
<rect x="331.2" y="452.5" width="1" height="48.8" rx="1" fill="#b0b0b0" filter="url(#blur)"/>
<rect x="334.5" y="452.5" width="0.8" height="48.8" rx="1" fill="#c0c0c0" filter="url(#blur)"/>
<rect x="322.5" y="494.1" width="6.5" height="3" rx="1" fill="#111" filter="url(#blur)"/>
<rect x="329.5" y="494.6" width="5.5" height="2" rx="1" fill="#666" filter="url(#blur)"/>
<rect x="329.5" y="463.45" width="6.5" height="1.5" rx="1" fill="#888" filter="url(#blur)"/>
<text x="371.9" y="451.5" font-size="8.5" text-anchor="middle" stroke="#111" stroke-width="0.22" font-family="'Liberation Serif', 'Times New Roman', serif" fill="#111" xml:space="preserve">N T</text>
<linearGradient id="g4" x1="0" y1="0" x2="0" y2="1"><stop offset="0" stop-color="#909090"/><stop offset="1" stop-color="#a8a8a8"/></linearGradient>
<rect x="363" y="452.5" width="17.8" height="48.8" fill="url(#g4)"/>
<rect x="364" y="462.8" width="16" height="3" rx="1" fill="#444" filter="url(#blur)"/>
<rect x="369.5" y="487.4" width="2.5" height="2" rx="1" fill="#444" filter="url(#blur)"/>
<rect x="376.5" y="477.5" width="3" height="11" rx="1" fill="#808080" filter="url(#blur)"/>
<text x="168.5" y="451.4" font-size="7.8" text-anchor="end" stroke="#111" stroke-width="0.22" font-family="'Liberation Serif', 'Times New Roman', serif" fill="#111" transform="rotate(-90 168.5 451.4)">Mef2c</text>
<text x="189.2" y="451.4" font-size="7.8" text-anchor="end" stroke="#111" stroke-width="0.22" font-family="'Liberation Serif', 'Times New Roman', serif" fill="#111" transform="rotate(-90 189.2 451.4)">Myc</text>
<text x="209.6" y="451.4" font-size="7.8" text-anchor="end" stroke="#111" stroke-width="0.22" font-family="'Liberation Serif', 'Times New Roman', serif" fill="#111" transform="rotate(-90 209.6 451.4)">Gfi1</text>
<text x="227.3" y="451.4" font-size="7.8" text-anchor="end" stroke="#111" stroke-width="0.22" font-family="'Liberation Serif', 'Times New Roman', serif" fill="#111" transform="rotate(-90 227.3 451.4)">Rasgrp1</text>
<text x="250.5" y="451.4" font-size="7.8" text-anchor="end" stroke="#111" stroke-width="0.22" font-family="'Liberation Serif', 'Times New Roman', serif" fill="#111" transform="rotate(-90 250.5 451.4)">Lmo2</text>
<text x="269" y="451.4" font-size="7.8" text-anchor="end" stroke="#111" stroke-width="0.22" font-family="'Liberation Serif', 'Times New Roman', serif" fill="#111" transform="rotate(-90 269 451.4)">Myb</text>
<text x="292.4" y="451.4" font-size="7.8" text-anchor="end" stroke="#111" stroke-width="0.22" font-family="'Liberation Serif', 'Times New Roman', serif" fill="#111" transform="rotate(-90 292.4 451.4)">Bcl11b</text>
<text x="352.6" y="451.4" font-size="7.8" text-anchor="end" stroke="#111" stroke-width="0.22" font-family="'Liberation Serif', 'Times New Roman', serif" fill="#111" transform="rotate(-90 352.6 451.4)">Gtf2i</text>
<text x="312.5" y="507" font-size="8.0" text-anchor="end" stroke="#111" stroke-width="0.22" font-family="'Liberation Serif', 'Times New Roman', serif" fill="#111" transform="rotate(-58 312.5 507)">Vav3</text>
<text x="333.8" y="507" font-size="8.0" text-anchor="end" stroke="#111" stroke-width="0.22" font-family="'Liberation Serif', 'Times New Roman', serif" fill="#111" transform="rotate(-58 333.8 507)">Nup214</text>
<text x="376" y="507" font-size="8.0" text-anchor="end" stroke="#111" stroke-width="0.22" font-family="'Liberation Serif', 'Times New Roman', serif" fill="#111" transform="rotate(-58 376 507)">Ncam2</text>
</svg></body></html>
